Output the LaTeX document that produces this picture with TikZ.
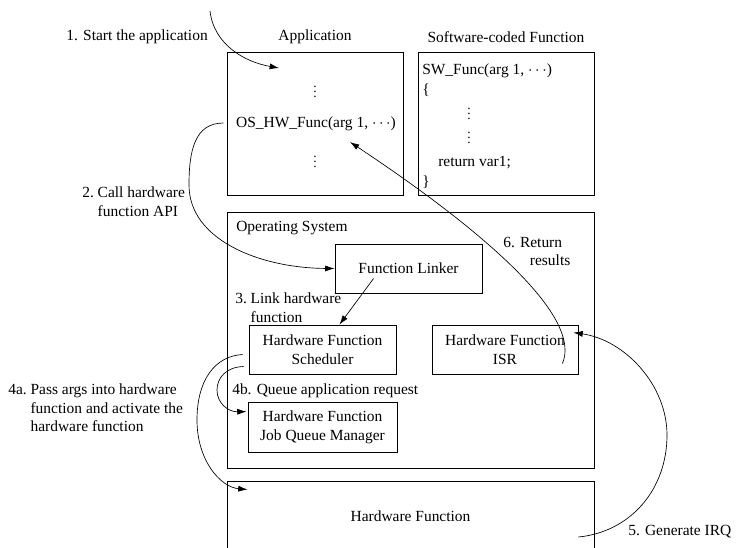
\documentclass[tikz,border=0pt]{standalone}
\usepackage{fontspec}
\setmainfont{Liberation Serif}
\usetikzlibrary{positioning,calc,arrows.meta}
\tikzset{%
every node/.style={font=\fontsize{11.6}{14}\selectfont},
box/.style={draw,line width=0.65pt,inner sep=0pt},
panel/.style={box,minimum width=132pt,minimum height=107.25pt},
layer/.style={box,minimum width=275.25pt},
unit/.style={box,align=center,minimum width=110.25pt,minimum height=36.75pt},
lbl/.style={inner sep=0pt,anchor=west,align=left},
gap/.style={inner sep=0pt,font=\fontsize{10}{10}\selectfont},
flow/.style={-{Latex[length=7pt,width=4.5pt]},line width=0.5pt}
}
% numbered step text with hanging indent
\newcommand{\numbered}[2]{\begin{tabular}{@{}l@{\ }l@{}}#1&\begin{tabular}[t]{@{}l@{}}#2\end{tabular}\end{tabular}}

\begin{document}
\begin{tikzpicture}[x=0.75pt,y=-0.75pt]
  \useasboundingbox (0,0) rectangle (736,547);
  \clip (0,0) rectangle (736,547);

  % application and software function
  \node[panel] (app) at (315,123.5) {};
  \node[panel] (swf) at (506,123.5) {};
  \node (apptitle) at (315,37) {Application};
  \node (swtitle) at (506,37) {Software-coded Function};
  \node[gap] (dotsa) at (315,88) {$\vdots$};
  \node (call) at (316,124) {OS\_HW\_Func(arg 1, $\cdots$)};
  \node[gap] (dotsb) at (315,158) {$\vdots$};

  \node[lbl] (swhead) at (422,71) {SW\_Func(arg 1, $\cdots$)};
  \node[lbl] (lbrace) at (422,90) {\{};
  \node[gap] (dotsc) at (469,110) {$\vdots$};
  \node[gap] (dotsd) at (469,134) {$\vdots$};
  \node[lbl] (ret) at (438,163) {return var1;};
  \node[lbl] (rbrace) at (422,182) {\}};

  % operating system
  \node[layer,minimum height=192pt] (os) at (410.5,340) {};
  \node[lbl] (ostitle) at (236,228) {Operating System};
  \node[unit] (linker) at (408.5,268.5) {Function Linker};
  \node[unit] (sched) at (322.5,349.5) {Hardware Function\\Scheduler};
  \node[unit,minimum width=109.5pt] (isr) at (505,349.5) {Hardware Function\\ISR};
  \node[unit,minimum width=111.75pt,minimum height=37.5pt] (jqm) at (322.5,427) {Hardware Function\\Job Queue Manager};

  % hardware
  \node[layer,minimum height=52.5pt] (hw) at (410.5,516) {Hardware Function};

  % step labels
  \node[lbl,anchor=east] (s1) at (208,37) {1. Start the application};
  \node[lbl] (s2) at (82,203.5) {\numbered{2.}{Call hardware\\function API}};
  \node[lbl] (s3) at (235,309) {\numbered{3.}{Link hardware\\function}};
  \node[lbl] (s4a) at (8,409.5) {\numbered{4a.}{Pass args into hardware\\function and activate the\\hardware function}};
  \node[lbl] (s4b) at (232,391) {4b. Queue application request};
  \node[lbl] (s5) at (628,532) {5. Generate IRQ};
  \node[lbl] (s6) at (503,251.5) {6. Return\\\hspace*{20pt}results};

  % flow
  \coordinate (launch) at (210,11);
  \coordinate (appentry) at (279,68);
  \coordinate (hwentry) at ($(hw.north west)+(21,9)$);
  \draw[flow] (launch) .. controls (214,45) and (245,62) .. (appentry);
  \draw[flow] ($(call.west)+(-8,-1)$) .. controls (195,123) and (189,150) .. (189,185)
    .. controls (189,240) and (260,268) .. (linker.west);
  \draw[flow] ($(linker.west)+(39,10)$) -- ($(sched.north)+(17,0)$);
  \draw[flow] ($(sched.west)+(-6,5)$) .. controls (215,356) and (197,380) .. (197,420)
    .. controls (197,460) and (220,487) .. (hwentry);
  \draw[flow] ($(sched.west)+(-5,17)$) .. controls (226,367) and (217,378) .. (217,390)
    .. controls (217,403) and (228,412) .. ($(jqm.north west)+(-1,10)$);
  \draw[flow] ($(hw.east)+(-16,21)$) .. controls (630,532) and (667,490) .. (667,435)
    .. controls (667,385) and (625,340) .. ($(isr.north east)+(-5,8)$);
  \draw[flow] ($(isr.south east)+(-16,-11)$) .. controls (582,318) and (490,235) .. ($(call.center)+(34,18)$);
\end{tikzpicture}
\end{document}
